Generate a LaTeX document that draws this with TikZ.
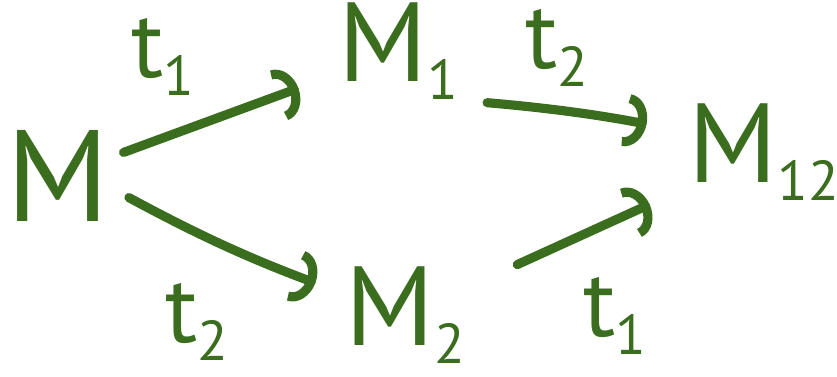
\documentclass[tikz,border=0pt]{standalone}
\usepackage{fontspec}
\setmainfont{PT Sans}
\usetikzlibrary{arrows.meta, positioning}
\definecolor{inkgreen}{HTML}{3A6D1E}
\newcommand{\lowsub}[1]{\raisebox{-5pt}{\fontsize{16}{18}\selectfont #1}}

\begin{document}
\begin{tikzpicture}[x=0.01cm, y=-0.01cm,
    state/.style={inkgreen, font=\fontsize{32}{38}\selectfont, inner sep=0pt, anchor=base west},
    trans/.style={inkgreen, font=\fontsize{27}{32}\selectfont, inner sep=0pt},
    arr/.style={inkgreen, line width=2.6pt, line cap=round,
      -{Arc Barb[length=6pt, width=15pt]}}]
  \useasboundingbox (0,0) rectangle (837,377);
  % markings
  \node[state, font=\fontsize{37}{42}\selectfont] (m) at (6,222) {M};
  \node[state] (m1) at (338,82) {M\lowsub{1}};
  \node[state] (m2) at (345,346) {M\lowsub{2}};
  \node[state] (m12) at (688,183) {M\lowsub{12}};
  % firing labels
  \node[trans] (ta) at (163,57) {t\lowsub{1}};
  \node[trans] (tb) at (557,48) {t\lowsub{2}};
  \node[trans] (tc) at (197,322) {t\lowsub{2}};
  \node[trans] (td) at (615,316) {t\lowsub{1}};
  % steps
  \draw[arr, shorten <=4pt, shorten >=12pt] (m) -- (m1);
  \draw[arr, shorten <=6pt, shorten >=9pt] (m.-12) to[bend right=4] (m2);
  \draw[arr, shorten <=8pt, shorten >=12pt] (m1.south east) to[bend left=3] (m12.165);
  \draw[arr, shorten <=16pt, shorten >=12pt] (m2) -- (m12);
\end{tikzpicture}
\end{document}
